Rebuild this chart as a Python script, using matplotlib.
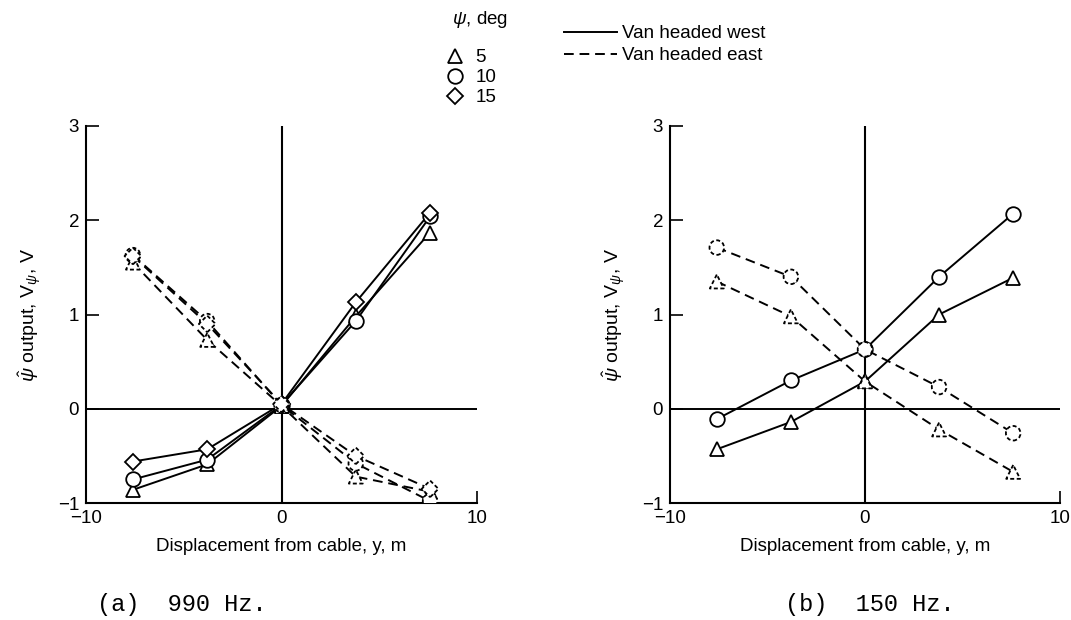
import matplotlib
matplotlib.use("Agg")
import matplotlib.pyplot as plt
from matplotlib.lines import Line2D

# ---------------- data ----------------
y_pos = [-7.6, -3.8, 0.0, 3.8, 7.6]

# (a) 990 Hz
a_west_5 = [-0.86, -0.59, 0.03, 0.98, 1.87]
a_west_10 = [-0.75, -0.54, 0.04, 0.93, 2.04]
a_west_15 = [-0.56, -0.43, 0.05, 1.13, 2.08]
a_east_5 = [1.55, 0.73, 0.03, -0.72, -0.88]
a_east_10 = [1.63, 0.93, 0.04, -0.58, -0.98]
a_east_15 = [1.62, 0.90, 0.05, -0.50, -0.85]

# (b) 150 Hz
b_west_5 = [-0.43, -0.14, 0.29, 1.00, 1.39]
b_west_10 = [-0.11, 0.30, 0.63, 1.40, 2.07]
b_east_5 = [1.35, 0.98, 0.29, -0.22, -0.67]
b_east_10 = [1.71, 1.40, 0.63, 0.23, -0.26]

x_ticks = [-10, 0, 10]
y_ticks = [-1, 0, 1, 2, 3]
psi_labels = ["5", "10", "15"]
markers = {"5": "^", "10": "o", "15": "D"}
marker_size = {"5": 10, "10": 10.5, "15": 8.5}

plt.rcParams['font.family'] = ['Liberation Sans', 'DejaVu Sans']
plt.rcParams['mathtext.fontset'] = 'custom'
plt.rcParams['mathtext.rm'] = 'Liberation Sans'
plt.rcParams['mathtext.it'] = 'Liberation Sans:italic'

W, H = 1071, 620
fig = plt.figure(figsize=(W / 100, H / 100), dpi=100)

def px_box(x0, x1, ytop, ybot):
    return [x0 / W, 1 - ybot / H, (x1 - x0) / W, (ybot - ytop) / H]

ax1 = fig.add_axes(px_box(86, 477, 126, 503))
ax2 = fig.add_axes(px_box(670, 1060, 126, 503))

dash = (0, (5, 3))
mdash = (0, (2.2, 1.4))


def draw(ax, yv, key, east):
    ls = dash if east else '-'
    ax.plot(y_pos, yv, color='k', lw=1.4, ls=ls, zorder=2)
    ms = marker_size[key]
    if east:
        ax.scatter(y_pos, yv, s=ms ** 2, marker=markers[key], facecolors='white',
                   edgecolors='k', linewidths=1.3, linestyles=mdash, zorder=3)
    else:
        ax.plot(y_pos, yv, ls='none', marker=markers[key], ms=ms, mfc='white',
                mec='k', mew=1.3, zorder=3)


for yv, key in [(a_west_5, "5"), (a_west_10, "10"), (a_west_15, "15")]:
    draw(ax1, yv, key, False)
for yv, key in [(a_east_5, "5"), (a_east_10, "10"), (a_east_15, "15")]:
    draw(ax1, yv, key, True)
for yv, key in [(b_west_5, "5"), (b_west_10, "10")]:
    draw(ax2, yv, key, False)
for yv, key in [(b_east_5, "5"), (b_east_10, "10")]:
    draw(ax2, yv, key, True)

for ax in (ax1, ax2):
    ax.set_xlim(-10, 10)
    ax.set_ylim(-1, 3)
    ax.set_xticks(x_ticks)
    ax.set_yticks(y_ticks)
    ax.set_xticklabels(["\u221210", "0", "10"])
    ax.set_yticklabels(["\u22121", "0", "1", "2", "3"])
    ax.spines['top'].set_visible(False)
    ax.spines['right'].set_visible(False)
    for s in ('left', 'bottom'):
        ax.spines[s].set_linewidth(1.5)
    ax.axhline(0, color='k', lw=1.4, zorder=1)
    ax.axvline(0, color='k', lw=1.5, zorder=1)
    ax.tick_params(direction='in', length=9, width=1.2, labelsize=13.5, pad=5)
    ax.set_xlabel("Displacement from cable, y, m", fontsize=13.5, labelpad=8)
    ax.set_ylabel(r"$\hat{\psi}$ output, V$_{\psi}$, V", fontsize=14, labelpad=10)

fig.text(97 / W, 1 - 604 / H, "(a)  990 Hz.", family='Liberation Mono',
         fontsize=17, va='center', ha='left')
fig.text(785 / W, 1 - 604 / H, "(b)  150 Hz.", family='Liberation Mono',
         fontsize=17, va='center', ha='left')

# psi legend: title as separate text, entries below
fig.text(480 / W, 1 - 20 / H, r"$\psi$, deg", fontsize=13.5, ha='center', va='center')
psi_handles = [Line2D([], [], ls='none', marker=markers[k], ms=marker_size[k],
                      mfc='white', mec='k', mew=1.3) for k in psi_labels]
fig.legend(psi_handles, psi_labels, frameon=False,
           loc='upper left', bbox_to_anchor=(436 / W, 1 - 40 / H),
           fontsize=13.5, handlelength=1.0,
           handletextpad=0.6, labelspacing=0.15, borderpad=0)

line_handles = [Line2D([], [], color='k', lw=1.4, ls='-'),
                Line2D([], [], color='k', lw=1.4, ls=dash)]
fig.legend(line_handles, ["Van headed west", "Van headed east"], frameon=False,
           loc='upper left', bbox_to_anchor=(555 / W, 1 - 16 / H), fontsize=13.5,
           handlelength=2.8, handletextpad=0.3, labelspacing=0.25, borderpad=0)

fig.savefig("out.png", dpi=100, facecolor='white')
